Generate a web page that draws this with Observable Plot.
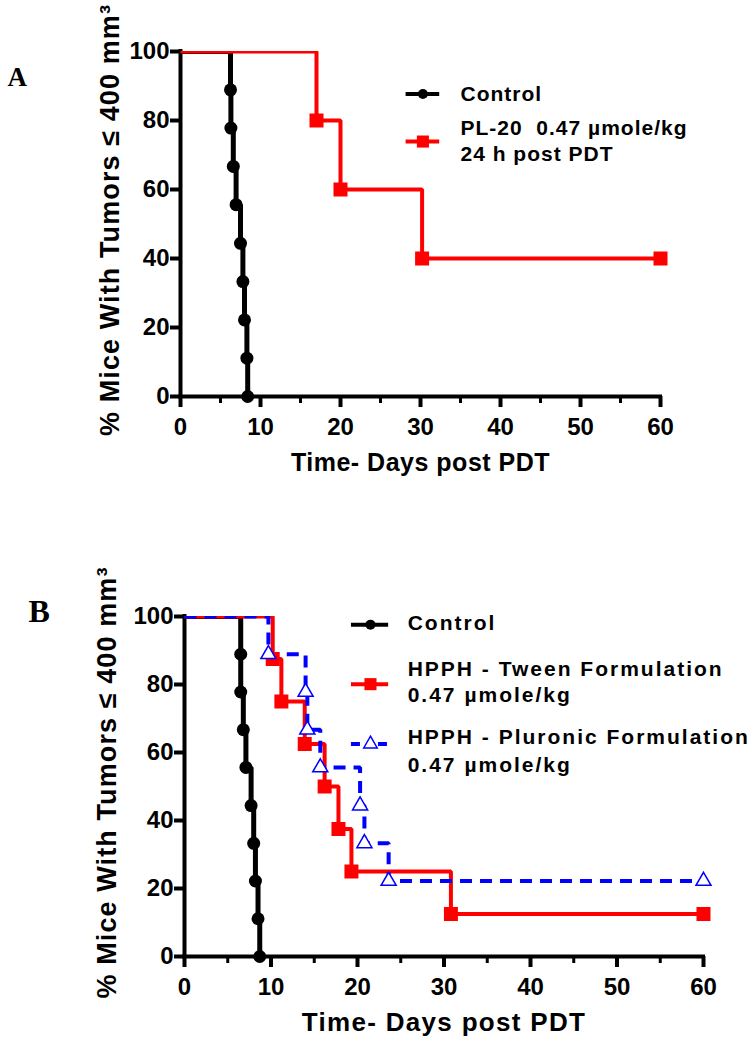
<!DOCTYPE html>
<html><head><meta charset="utf-8">
<script src="https://cdn.jsdelivr.net/npm/d3@7"></script>
<script src="https://cdn.jsdelivr.net/npm/@observablehq/plot@0.6"></script>
<style>
html,body{margin:0;padding:0;background:#fff;overflow:hidden;}
#chart{width:749px;height:1050px;}
#chart svg{display:block;}
</style></head><body><div id="chart"></div>
<script>
// ---------- Panel A data ----------
const controlA_days = [6.25, 6.3, 6.6, 6.95, 7.5, 7.8, 8.0, 8.3, 8.4];
const controlA_pct  = [88.9, 77.8, 66.7, 55.6, 44.4, 33.3, 22.2, 11.1, 0];
const pl20_days = [17.0, 20.0, 30.2, 60];
const pl20_pct  = [80, 60, 40, 40];

// ---------- Panel B data ----------
const controlB_days = [6.5, 6.5, 6.8, 7.1, 7.7, 8.0, 8.2, 8.5, 8.7];
const controlB_pct  = [88.9, 77.8, 66.7, 55.6, 44.4, 33.3, 22.2, 11.1, 0];
const tween_days = [10.2, 11.2, 13.9, 16.2, 17.8, 19.3, 30.8, 60];
const tween_pct  = [87.5, 75, 62.5, 50, 37.5, 25, 12.5, 12.5];
const pluronic_days = [9.7, 14.0, 14.2, 15.7, 20.3, 20.8, 23.6, 60];
const pluronic_pct  = [88.9, 77.8, 66.7, 55.6, 44.4, 33.3, 22.2, 22.2];

// ---------- Ticks & labels ----------
const xTicks = [0, 10, 20, 30, 40, 50, 60];
const xMinorTicks = [5, 15, 25, 35, 45, 55];
const yTicks = [0, 20, 40, 60, 80, 100];
const xLabel = "Time- Days post PDT";
const yLabel = "% Mice With Tumors \u2264 400 mm\u00B3";
const legendA_labels = [["Control"], ["PL-20  0.47 \u00B5mole/kg", "24 h post PDT"]];
const legendB_labels = [["Control"], ["HPPH - Tween Formulation", "0.47 \u00B5mole/kg"], ["HPPH - Pluronic Formulation", "0.47 \u00B5mole/kg"]];

// ---------- helpers ----------
const pts = (days, pct) => days.map((d, i) => ({day: d, pct: pct[i]}));
const steps = (days, pct) => [{day: 0, pct: 100}].concat(pts(days, pct));
const SANS = "'Liberation Sans', Arial, Helvetica, sans-serif";
const SERIF = "'Liberation Serif', 'Times New Roman', serif";

function stepLine(days, pct, o) {
  return Plot.line(steps(days, pct), {x: "day", y: "pct", curve: "step-after", clip: true,
    strokeLinejoin: "miter", strokeLinecap: "butt", ...o});
}

function axes(p) {
  return [
    Plot.ruleY([0], {strokeWidth: 4, strokeLinecap: "square"}),
    Plot.ruleX([0], {strokeWidth: 4, strokeLinecap: "square"}),
    Plot.axisX(xMinorTicks, {anchor: "bottom", tickSize: 7, strokeWidth: 3, tickFormat: () => "", label: null}),
    Plot.axisX(xTicks, {anchor: "bottom", tickSize: 11, tickPadding: 10, strokeWidth: 4, fontSize: 24, fontWeight: "bold", label: null}),
    Plot.axisY(yTicks, {anchor: "left", tickSize: 10, tickPadding: 1, strokeWidth: 4, fontSize: 24, fontWeight: "bold", label: null}),
    Plot.text([yLabel], {frameAnchor: "left", textAnchor: "middle", lineAnchor: "middle", rotate: -90,
      dx: p.yTitleDx, dy: -4, fontSize: 27, fontWeight: "bold"}),
    Plot.text([xLabel], {frameAnchor: "bottom", textAnchor: "middle", lineAnchor: "middle",
      dy: p.xTitleDy, fontSize: p.xTitleSize, fontWeight: "bold"}),
    Plot.text([p.letter], {frameAnchor: "top-left", dx: p.letterDx, dy: p.letterDy, textAnchor: "start", lineAnchor: "middle",
      fontFamily: SERIF, fontSize: p.letterSize, fontWeight: "bold"})
  ];
}

function legend(entries, lay) {
  const marks = [];
  entries.forEach((e, i) => {
    const L = lay[i];
    marks.push(Plot.ruleY([L.y], {x1: lay.x1, x2: lay.x2, stroke: e.color, strokeWidth: 4,
      strokeDasharray: e.dash || null}));
    marks.push(Plot.dot([{x: lay.xm, y: L.y}], {x: "x", y: "y", symbol: e.symbol, r: e.r,
      fill: e.fill, stroke: e.stroke || "none", strokeWidth: e.stroke ? 1.5 : 0}));
    marks.push(Plot.text(e.label.map((t, j) => ({t, y: L.ty[j]})), {x: lay.tx, y: "y", text: "t",
      textAnchor: "start", lineAnchor: "middle", fontSize: 21, fontWeight: "bold"}));
  });
  return marks;
}

function finish(svg, map) {
  const s = d3.select(svg);
  s.selectAll('g[aria-label$="tick label"]').attr("font-size", 24).attr("font-weight", "bold")
    .style("font-size", "24px").style("font-weight", "bold");
  s.selectAll("text").each(function () {
    const t = this.textContent;
    if (map.has(t)) this.setAttribute("letter-spacing", map.get(t));
  });
  return svg;
}

// ---------- Panel A ----------
const svgA = Plot.plot({
  width: 749, height: 500,
  marginLeft: 180, marginRight: 89, marginTop: 51, marginBottom: 104,
  style: `font-family: ${SANS}; font-weight: bold; background: white; color: black; overflow: visible;`,
  x: {domain: [0, 60], label: null},
  y: {domain: [0, 100], label: null},
  marks: [
    ...axes({yTitleDx: -70, xTitleDy: 66, xTitleSize: 25, letter: "A", letterDx: -173, letterDy: 26, letterSize: 27}),
    stepLine(controlA_days, controlA_pct, {stroke: "black", strokeWidth: 5}),
    stepLine(pl20_days, pl20_pct, {stroke: "#ff0000", strokeWidth: 4}),
    Plot.dot(pts(controlA_days, controlA_pct), {x: "day", y: "pct", symbol: "circle", r: 6.5, fill: "black", stroke: "none"}),
    Plot.dot(pts(pl20_days, pl20_pct), {x: "day", y: "pct", symbol: "square", r: 7.9, fill: "#ff0000", stroke: "none"}),
    ...legend([
      {label: legendA_labels[0], color: "black", symbol: "circle", r: 5, fill: "black"},
      {label: legendA_labels[1], color: "#ff0000", symbol: "square", r: 6.8, fill: "#ff0000"}
    ], Object.assign([{y: 87.7, ty: [87.7]}, {y: 73.9, ty: [77.8, 70.1]}], {x1: 28.2, x2: 32.4, xm: 30.3, tx: 35}))
  ]
});
finish(svgA, new Map([[xLabel, "0.5"], [yLabel, "1.1"], ["Control", "1"], [legendA_labels[1][0], "1"], [legendA_labels[1][1], "1"]]));

// ---------- Panel B ----------
const svgB = Plot.plot({
  width: 749, height: 550,
  marginLeft: 184, marginRight: 46, marginTop: 116, marginBottom: 94,
  style: `font-family: ${SANS}; font-weight: bold; background: white; color: black; overflow: visible;`,
  x: {domain: [0, 60], label: null},
  y: {domain: [0, 100], label: null},
  marks: [
    ...axes({yTitleDx: -77, xTitleDy: 66, xTitleSize: 26, letter: "B", letterDx: -156, letterDy: -5, letterSize: 32}),
    stepLine(controlB_days, controlB_pct, {stroke: "black", strokeWidth: 5}),
    stepLine(tween_days, tween_pct, {stroke: "#ff0000", strokeWidth: 4}),
    stepLine(pluronic_days, pluronic_pct, {stroke: "#0000ff", strokeWidth: 4, strokeDasharray: "12,8"}),
    Plot.dot(pts(controlB_days, controlB_pct), {x: "day", y: "pct", symbol: "circle", r: 6.5, fill: "black", stroke: "none"}),
    Plot.dot(pts(tween_days, tween_pct), {x: "day", y: "pct", symbol: "square", r: 7.9, fill: "#ff0000", stroke: "none"}),
    Plot.dot(pts(pluronic_days, pluronic_pct), {x: "day", y: "pct", symbol: "triangle", r: 5.6, fill: "white", stroke: "#0000ff", strokeWidth: 1.5}),
    ...legend([
      {label: legendB_labels[0], color: "black", symbol: "circle", r: 5, fill: "black"},
      {label: legendB_labels[1], color: "#ff0000", symbol: "square", r: 6.8, fill: "#ff0000"},
      {label: legendB_labels[2], color: "#0000ff", symbol: "triangle", r: 5, fill: "white", stroke: "#0000ff", dash: "9,18"}
    ], Object.assign([{y: 97.6, ty: [98.0]}, {y: 80.1, ty: [84.6, 76.7]}, {y: 62.5, ty: [64.4, 56.1]}], {x1: 19.3, x2: 23.6, xm: 21.5, tx: 25.8}))
  ]
});
finish(svgB, new Map([[xLabel, "1.3"], [yLabel, "1.1"], ["Control", "2"], [legendB_labels[1][0], "2"], [legendB_labels[1][1], "2"], [legendB_labels[2][0], "2"]]));

document.getElementById("chart").append(svgA, svgB);
</script>
</body></html>
